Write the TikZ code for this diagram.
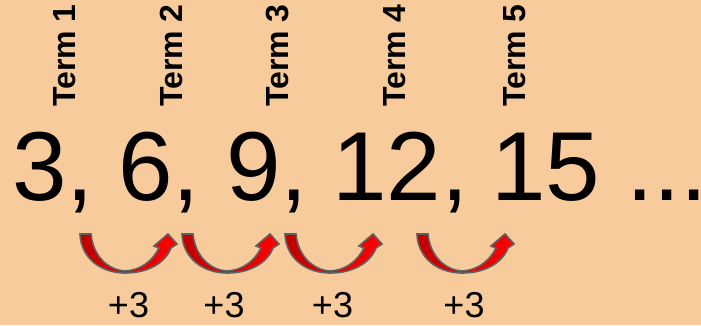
\documentclass[tikz,border=0pt]{standalone}
\usepackage{fontspec}
\setmainfont{Liberation Sans}
\definecolor{bgpeach}{HTML}{F8CB9C}
\definecolor{darkred}{HTML}{C00000}
\definecolor{brightred}{HTML}{FF0000}
\definecolor{edgegray}{HTML}{606060}
\tikzset{
  termlabel/.style={rotate=90, anchor=base west, inner sep=0pt, font=\fontsize{32}{32}\selectfont\bfseries},
  bignum/.style={anchor=base west, inner sep=0pt, font=\fontsize{98}{98}\selectfont},
  steplabel/.style={anchor=base, inner sep=0pt, font=\fontsize{36}{36}\selectfont},
  curvearrow/.pic={
    \draw[edgegray, line width=1.6pt, left color=darkred, right color=brightred, line join=miter]
      (0,0) -- (11,0)
      .. controls (13,22) and (28,36) .. (45,37)
      .. controls (62,36) and (73,26) .. (79,14)
      -- (74,12) -- (88,0) -- (97,10) -- (91,14)
      .. controls (85,29) and (68,39) .. (45,39)
      .. controls (22,39) and (1,25) .. cycle;
  }
}
\begin{document}
\begin{tikzpicture}[x=1pt, y=-1pt]
\useasboundingbox (0,0) rectangle (701,325);
\fill[bgpeach] (0,0) rectangle (701,325);

% Term labels
\node[termlabel] (t1) at (75,107) {Term 1};
\node[termlabel] (t2) at (182,107) {Term 2};
\node[termlabel] (t3) at (288,107) {Term 3};
\node[termlabel] (t4) at (405,107) {Term 4};
\node[termlabel] (t5) at (525,107) {Term 5};

% Sequence
\node[bignum] (n1) at (12,200) {3,};
\node[bignum] (n2) at (118,200) {6,};
\node[bignum] (n3) at (226,200) {9,};
\node[bignum] (n4) at (332,200) {12,};
\node[bignum] (n5) at (491,200) {15};
\node[bignum] (n6) at (626,200) {..\rlap{.}};

% Curved arrows
\pic at (80,234) {curvearrow};
\pic at (182,234) {curvearrow};
\pic at (285,234) {curvearrow};
\pic at (417,234) {curvearrow};

% Step labels
\node[steplabel] (s1) at (128.5,317) {+3};
\node[steplabel] (s2) at (224,317) {+3};
\node[steplabel] (s3) at (332.5,317) {+3};
\node[steplabel] (s4) at (464,317) {+3};
\end{tikzpicture}
\end{document}
